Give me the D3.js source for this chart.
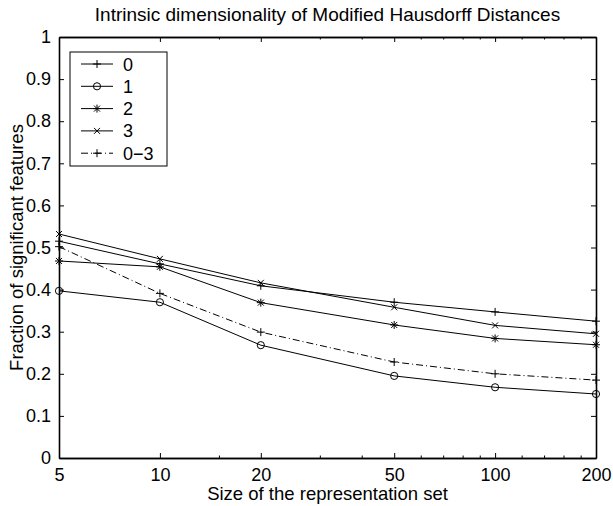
<!DOCTYPE html>
<html>
<head>
<meta charset="utf-8">
<title>Intrinsic dimensionality</title>
<script src="https://d3js.org/d3.v7.min.js"></script>
<style>
  body { margin: 0; background: #fff; }
  text { font-family: "Liberation Sans", Arial, Helvetica, sans-serif; fill: #000; }
  .axis path, .axis line { stroke: #000; }
</style>
</head>
<body>
<div id="chart"></div>
<script>
// data
var sizes = [5, 10, 20, 50, 100, 200];
var s0  = [0.515, 0.461, 0.409, 0.370, 0.347, 0.325];
var s1  = [0.397, 0.370, 0.268, 0.195, 0.168, 0.152];
var s2  = [0.468, 0.454, 0.369, 0.316, 0.284, 0.269];
var s3  = [0.532, 0.473, 0.416, 0.358, 0.315, 0.295];
var s03 = [0.502, 0.391, 0.299, 0.228, 0.200, 0.185];

var seriesNames = ["0", "1", "2", "3", "0\u22123"];
var xTickValues = [5, 10, 20, 50, 100, 200];
var xMinorTicks = [15, 30, 40, 60, 70, 80, 90, 120, 140, 160, 180];
var yTickValues = [0, 0.1, 0.2, 0.3, 0.4, 0.5, 0.6, 0.7, 0.8, 0.9, 1];
var yTickLabels = ["0", "0.1", "0.2", "0.3", "0.4", "0.5", "0.6", "0.7", "0.8", "0.9", "1"];

var series = [
  {name: seriesNames[0], values: s0,  marker: "plus",   dash: null},
  {name: seriesNames[1], values: s1,  marker: "circle", dash: null},
  {name: seriesNames[2], values: s2,  marker: "star",   dash: null},
  {name: seriesNames[3], values: s3,  marker: "cross",  dash: null},
  {name: seriesNames[4], values: s03, marker: "plus",   dash: "7,3,1,3"}
];

var W = 613, H = 506;
var margin = {top: 37, right: 17, bottom: 48, left: 59};
var width = W - margin.left - margin.right,
    height = H - margin.top - margin.bottom;

var svg = d3.select("#chart").append("svg")
    .attr("width", W)
    .attr("height", H);

var g = svg.append("g")
    .attr("transform", "translate(" + margin.left + "," + margin.top + ")");

var x = d3.scaleLog().domain([5, 200]).range([0, width]);
var y = d3.scaleLinear().domain([0, 1]).range([height, 0]);

// axes box (MATLAB style, ticks inward)
var fmtY = function(d, i) { return yTickLabels[i]; };

g.append("g").attr("class", "axis")
  .attr("transform", "translate(0," + height + ")")
  .call(d3.axisBottom(x).tickValues(xTickValues).tickFormat(function(d) { return d; })
        .tickSizeInner(-5).tickSizeOuter(0).tickPadding(10));
g.append("g").attr("class", "axis")
  .attr("transform", "translate(0," + height + ")")
  .call(d3.axisBottom(x).tickValues(xMinorTicks).tickFormat("")
        .tickSizeInner(-2.5).tickSizeOuter(0));
g.append("g").attr("class", "axis")
  .call(d3.axisTop(x).tickValues(xTickValues).tickFormat("")
        .tickSizeInner(-5).tickSizeOuter(0));
g.append("g").attr("class", "axis")
  .call(d3.axisTop(x).tickValues(xMinorTicks).tickFormat("")
        .tickSizeInner(-2.5).tickSizeOuter(0));
g.append("g").attr("class", "axis")
  .call(d3.axisLeft(y).tickValues(yTickValues).tickFormat(fmtY)
        .tickSizeInner(-5).tickSizeOuter(0).tickPadding(8));
g.append("g").attr("class", "axis")
  .attr("transform", "translate(" + width + ",0)")
  .call(d3.axisRight(y).tickValues(yTickValues).tickFormat("")
        .tickSizeInner(-5).tickSizeOuter(0));

g.selectAll(".axis text").style("font-size", "18px").attr("fill", "#000");
g.selectAll(".axis path.domain").attr("stroke-width", 1.6);
g.selectAll(".axis .tick line").attr("stroke-width", 1);

// markers
function drawMarker(sel, type, cx, cy) {
  var m = sel.append("g").attr("transform", "translate(" + cx + "," + cy + ")");
  if (type == "circle") {
    m.append("circle").attr("r", 3.6).attr("fill", "none").attr("stroke", "#000").attr("stroke-width", 1);
  } else {
    var p = "";
    if (type == "plus" || type == "star") p += "M-4,0H4M0,-4V4";
    if (type == "cross") p += "M-3,-3L3,3M-3,3L3,-3";
    if (type == "star") p += "M-3,-3L3,3M-3,3L3,-3";
    m.append("path").attr("d", p).attr("fill", "none").attr("stroke", "#000").attr("stroke-width", 1);
  }
}

var line = d3.line()
  .x(function(d, i) { return x(sizes[i]); })
  .y(function(d) { return y(d); });

series.forEach(function(s) {
  g.append("path")
    .attr("d", line(s.values))
    .attr("fill", "none")
    .attr("stroke", "#000")
    .attr("stroke-width", 1)
    .attr("stroke-dasharray", s.dash);
  s.values.forEach(function(v, i) {
    drawMarker(g, s.marker, x(sizes[i]), y(v));
  });
});

// legend
var leg = svg.append("g").attr("transform", "translate(70,52)");
leg.append("rect").attr("width", 97).attr("height", 114)
  .attr("fill", "#fff").attr("stroke", "#000").attr("stroke-width", 1);
series.forEach(function(s, i) {
  var ly = 12 + i * 22.3;
  leg.append("line").attr("x1", 11).attr("x2", 43).attr("y1", ly).attr("y2", ly)
    .attr("stroke", "#000").attr("stroke-width", 1).attr("stroke-dasharray", s.dash);
  drawMarker(leg, s.marker, 27, ly);
  leg.append("text").attr("x", 53).attr("y", ly + 6.5).style("font-size", "18px").text(s.name);
});

// title and labels
svg.append("text").attr("x", margin.left + width / 2).attr("y", 21)
  .attr("text-anchor", "middle").style("font-size", "19px")
  .text("Intrinsic dimensionality of Modified Hausdorff Distances");
svg.append("text").attr("x", margin.left + width / 2).attr("y", 500)
  .attr("text-anchor", "middle").style("font-size", "18.5px")
  .text("Size of the representation set");
svg.append("text")
  .attr("transform", "translate(23," + (margin.top + height / 2) + ") rotate(-90)")
  .attr("text-anchor", "middle").style("font-size", "18.5px")
  .text("Fraction of significant features");
</script>
</body>
</html>
